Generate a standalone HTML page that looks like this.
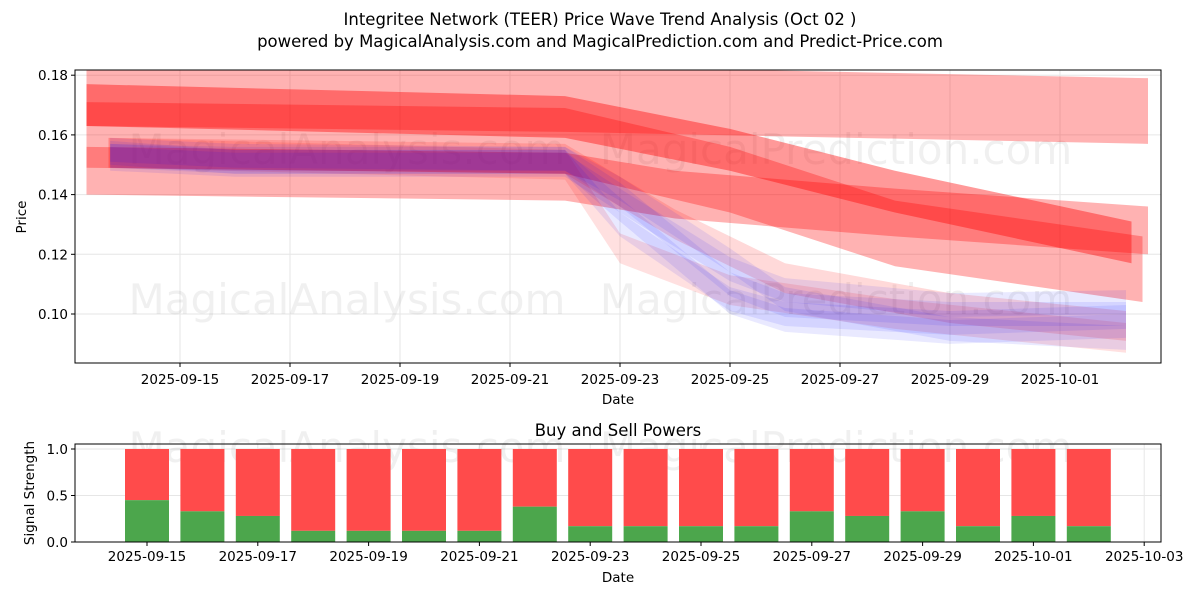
<!DOCTYPE html>
<html><head><meta charset="utf-8"><style>
body{margin:0;background:#fff;font-family:"Liberation Sans","DejaVu Sans",sans-serif}
svg text{font-family:"DejaVu Sans","Liberation Sans",sans-serif}
</style></head><body>
<svg id="c" width="1200" height="600" viewBox="0 0 1200 600">
<defs><clipPath id="pc"><rect x="75" y="70" width="1086" height="293"/></clipPath></defs>
<text x="600" y="25" font-size="16.5" text-anchor="middle">Integritee Network (TEER) Price Wave Trend Analysis (Oct 02 )</text>
<text x="600" y="47" font-size="16.5" text-anchor="middle">powered by MagicalAnalysis.com and MagicalPrediction.com and Predict-Price.com</text>
<g id="topg"></g><g id="botg"></g>
</svg>
<script>
const priceTicks=[0.10,0.12,0.14,0.16,0.18];
const dateTicks=["2025-09-15","2025-09-17","2025-09-19","2025-09-21","2025-09-23","2025-09-25","2025-09-27","2025-09-29","2025-10-01"];
const dateTicks2=["2025-09-15","2025-09-17","2025-09-19","2025-09-21","2025-09-23","2025-09-25","2025-09-27","2025-09-29","2025-10-01","2025-10-03"];
const redDays1=[-1.7,7,17.6], redC1=[0.174,0.172,0.168], redW1=0.022;
const redDays2=[-1.7,7,10,13,17.3], redC2=[0.170,0.166,0.155,0.141,0.124], redW2=0.014;
const redDays3=[-1.7,7,9,13,17.6], redC3=[0.148,0.146,0.14,0.134,0.128], redW3=0.016;
const redDays4=[-1.7,7,10,13,17.5], redC4=[0.16,0.158,0.145,0.127,0.115], redW4=0.022;
const redDays5=[-1.3,7,8,10,13,17.2], redC5=[0.154,0.15,0.122,0.108,0.1,0.092], redW5=0.01;
const redDays6=[-1.3,7,9,11,14,17.2], redC6=[0.154,0.152,0.13,0.112,0.102,0.096], redW6=0.01;
const blueDays=[-1.27,1,7,8,10,11,14,17.2];
const blueSeries=[[0.153,0.152,0.152,0.14,0.11,0.103,0.1,0.1],[0.154,0.151,0.151,0.135,0.104,0.098,0.094,0.096],[0.152,0.150,0.150,0.138,0.115,0.108,0.103,0.104],[0.155,0.153,0.152,0.142,0.118,0.105,0.095,0.092],[0.153,0.151,0.151,0.13,0.105,0.1,0.097,0.099]];
const blueW=0.008;
const sigDays=[0,1,2,3,4,5,6,7,8,9,10,11,12,13,14,15,16,17];
const buyVals=[0.45,0.33,0.28,0.12,0.12,0.12,0.12,0.38,0.17,0.17,0.17,0.17,0.33,0.28,0.33,0.17,0.28,0.17];
const NS="http://www.w3.org/2000/svg";
function mk(p,t,a,txt){const e=document.createElementNS(NS,t);for(const k in a)e.setAttribute(k,a[k]);if(txt!==undefined)e.textContent=txt;p.appendChild(e);return e;}
const L=75,R=1161,T=70,B=363;
const xT=d=>180+55*d, yT=v=>314-(v-0.10)*2985;
const gTop=document.getElementById('topg');
const tg=mk(gTop,'rect',{x:L,y:T,width:R-L,height:B-T,fill:'#fff'});


dateTicks.forEach((t,i)=>{const x=xT(2*i);mk(gTop,'line',{x1:x,x2:x,y1:T,y2:B,stroke:'#e6e6e6'});mk(gTop,'line',{x1:x,x2:x,y1:B,y2:B+4,stroke:'#000'});const e=mk(gTop,'text',{x:x,y:B+21,'font-size':13.5,'text-anchor':'middle'},t);});
priceTicks.forEach(v=>{const y=yT(v);mk(gTop,'line',{x1:L,x2:R,y1:y,y2:y,stroke:'#e6e6e6'});mk(gTop,'line',{x1:L-4,x2:L,y1:y,y2:y,stroke:'#000'});const e=mk(gTop,'text',{x:L-7,y:y+5,'font-size':13.5,'text-anchor':'end'},v.toFixed(2));});
[["MagicalAnalysis.com",347,150],["MagicalPrediction.com",836,150],["MagicalAnalysis.com",347,300],["MagicalPrediction.com",836,300]].forEach(w=>{const e=mk(gTop,'text',{x:w[1],y:w[2]+14,'font-size':42,'text-anchor':'middle',fill:'#000','fill-opacity':0.06},w[0]);});
const clipG=mk(gTop,'g',{'clip-path':'url(#pc)'});
function band(days,c,w,col,op,name){let up=days.map((d,i)=>xT(d)+','+yT(c[i]+w/2));let dn=days.map((d,i)=>xT(d)+','+yT(c[i]-w/2)).reverse();const p=mk(clipG,'polygon',{points:up.concat(dn).join(' '),fill:col,'fill-opacity':op});}
band(redDays1,redC1,redW1,'#ff0000',0.3,'red-wave-band');
band(redDays3,redC3,redW3,'#ff0000',0.3,'red-wave-band');
band(redDays4,redC4,redW4,'#ff0000',0.3,'red-wave-band');
band(redDays2,redC2,redW2,'#ff0000',0.4,'red-wave-band');
band(redDays5,redC5,redW5,'#ff0000',0.12,'red-wave-band');
band(redDays6,redC6,redW6,'#ff0000',0.15,'red-wave-band');
blueSeries.forEach(s=>band(blueDays,s,blueW,'#0000ff',0.085,'blue-wave-band'));
mk(gTop,'rect',{x:L,y:T,width:R-L,height:B-T,fill:'none',stroke:'#000'});
let e=mk(gTop,'text',{x:618,y:404,'font-size':13.5,'text-anchor':'middle'},'Date');
e=mk(gTop,'text',{x:26,y:217,'font-size':13.5,'text-anchor':'middle',transform:'rotate(-90 26 217)'},'Price');
const gBot=document.getElementById('botg');
const BT=444,BB=542;
const xB=d=>147+55.4*d, yB=v=>542-v*93;
e=mk(gBot,'text',{x:618,y:436,'font-size':16.5,'text-anchor':'middle'},'Buy and Sell Powers');
dateTicks2.forEach((t,i)=>{const x=xB(2*i);mk(gBot,'line',{x1:x,x2:x,y1:BT,y2:BB,stroke:'#e6e6e6'});mk(gBot,'line',{x1:x,x2:x,y1:BB,y2:BB+4,stroke:'#000'});const e=mk(gBot,'text',{x:x,y:BB+19,'font-size':13.5,'text-anchor':'middle'},t);});
[0,0.5,1].forEach(v=>{const y=yB(v);mk(gBot,'line',{x1:L,x2:R,y1:y,y2:y,stroke:'#e6e6e6'});mk(gBot,'line',{x1:L-4,x2:L,y1:y,y2:y,stroke:'#000'});const e=mk(gBot,'text',{x:L-7,y:y+5,'font-size':13.5,'text-anchor':'end'},v.toFixed(1));});
[["MagicalAnalysis.com",347],["MagicalPrediction.com",836]].forEach(w=>{const e=mk(gBot,'text',{x:w[1],y:462,'font-size':42,'text-anchor':'middle',fill:'#000','fill-opacity':0.06},w[0]);});
sigDays.forEach((d,i)=>{const x=xB(d)-22,b=buyVals[i];
 const s=mk(gBot,'rect',{x:x,y:yB(1),width:44,height:yB(b)-yB(1),fill:'#ff4b4b'});
 const g=mk(gBot,'rect',{x:x,y:yB(b),width:44,height:yB(0)-yB(b),fill:'#4ca64c'});});
mk(gBot,'rect',{x:L,y:BT,width:R-L,height:BB-BT,fill:'none',stroke:'#000'});
e=mk(gBot,'text',{x:618,y:582,'font-size':13.5,'text-anchor':'middle'},'Date');
e=mk(gBot,'text',{x:34,y:493,'font-size':13.5,'text-anchor':'middle',transform:'rotate(-90 34 493)'},'Signal Strength');
</script>
</body></html>
